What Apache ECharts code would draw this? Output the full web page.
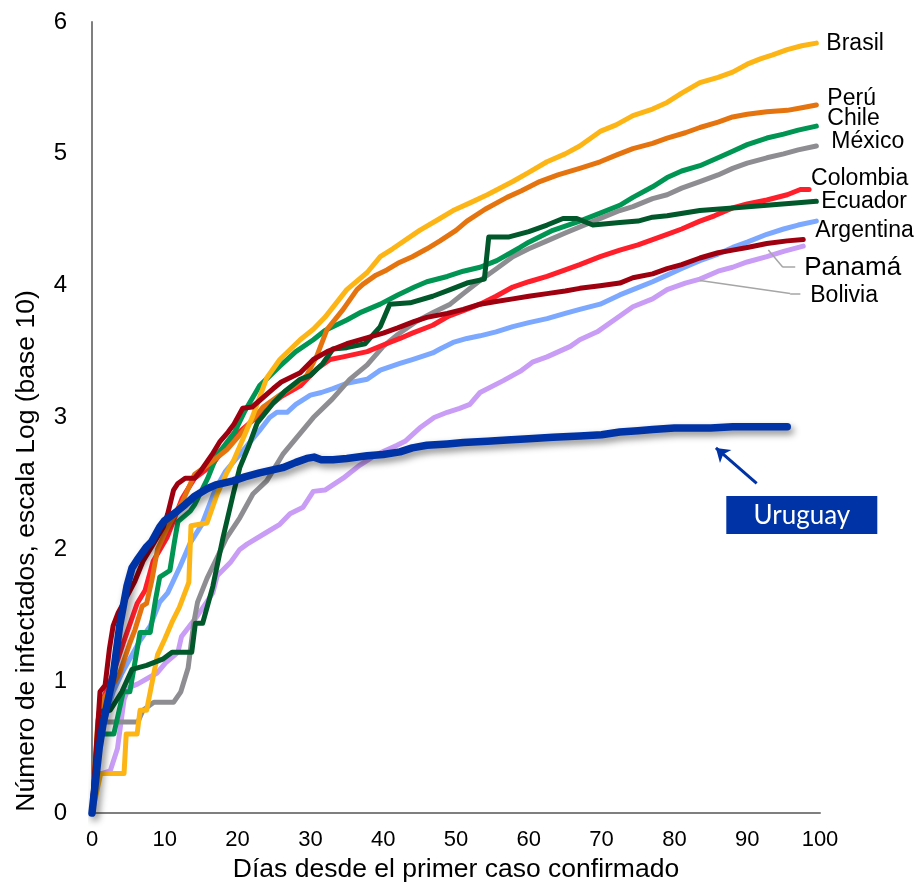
<!DOCTYPE html>
<html>
<head>
<meta charset="utf-8">
<script src="https://cdn.jsdelivr.net/npm/echarts@6/dist/echarts.min.js"></script>
<style>
  html, body { margin: 0; padding: 0; background: #ffffff; }
  #chart { width: 920px; height: 888px; }
</style>
</head>
<body>
<div id="chart"></div>
<script>
// log10 of confirmed cases, by days since the first confirmed case: [day, log10(cases)]
const brasil = [[0,0],[1.2,0.3],[4.4,0.3],[4.7,0.6],[6.2,0.6],[6.6,0.78],[7.5,0.78],[9,1.2],[10,1.32],[11,1.45],[12,1.56],[13.3,1.75],[13.6,2.18],[15.8,2.2],[17.2,2.42],[18.5,2.58],[19.5,2.68],[22,3.0],[24,3.3],[25.8,3.44],[28.6,3.59],[30.4,3.67],[32,3.76],[35,3.97],[37.8,4.1],[39.6,4.22],[41.3,4.28],[45,4.42],[47.5,4.5],[49.6,4.57],[52,4.63],[54.3,4.69],[57.8,4.79],[60,4.86],[62.5,4.94],[65,5.0],[67,5.06],[69.8,5.17],[72,5.22],[74.3,5.29],[77,5.34],[79,5.39],[81,5.46],[83.5,5.54],[86,5.58],[88,5.62],[90,5.68],[91.8,5.72],[93.5,5.75],[95.5,5.79],[97.5,5.82],[99.5,5.84]];
const peru = [[0,0],[0.8,0.7],[1.5,0.86],[2.5,0.94],[3.8,1.06],[5.2,1.29],[5.9,1.39],[6.9,1.57],[7.5,1.59],[8.2,1.76],[9,2.0],[10.4,2.17],[12.4,2.36],[14.1,2.57],[15.9,2.64],[18.6,2.76],[20,2.85],[21.7,2.96],[23.5,3.08],[25.8,3.17],[28,3.25],[29.5,3.32],[30.9,3.47],[32.3,3.67],[34.5,3.82],[36.4,3.97],[37.2,4.01],[39,4.08],[40.5,4.12],[42,4.17],[44,4.22],[46,4.28],[47.8,4.34],[50,4.42],[51.5,4.49],[54,4.58],[57,4.67],[59,4.72],[61.5,4.79],[64,4.84],[67,4.89],[69.8,4.94],[72,4.99],[74.3,5.04],[77,5.08],[79,5.12],[81.5,5.16],[83.5,5.2],[86,5.24],[88,5.28],[90,5.3],[92.7,5.32],[95.5,5.33],[97.5,5.35],[99.5,5.37]];
const chile = [[0,0],[1,0.6],[3,0.6],[4.3,0.92],[5.2,0.92],[6.6,1.37],[8,1.37],[8.7,1.61],[9.3,1.79],[10.7,1.84],[11.3,2.05],[11.8,2.21],[13.5,2.29],[14.1,2.34],[15.9,2.54],[17.2,2.72],[17.8,2.76],[19.6,2.89],[21,3.05],[23,3.24],[25.8,3.39],[28,3.5],[30.4,3.59],[32,3.66],[35,3.74],[37,3.8],[39.6,3.86],[42,3.93],[44.3,3.99],[46,4.03],[48.8,4.07],[51,4.11],[53.3,4.14],[55.6,4.19],[58.8,4.29],[60,4.33],[63.3,4.42],[67,4.49],[69.8,4.55],[72.5,4.61],[74.3,4.67],[77,4.75],[79,4.82],[81,4.87],[83.5,4.91],[86,4.97],[88,5.02],[90,5.07],[92.7,5.12],[95,5.15],[97,5.18],[99.5,5.21]];
const mexico = [[0,0],[1,0.69],[6.3,0.69],[7,0.78],[8.5,0.84],[11.2,0.84],[12.2,0.92],[13.2,1.1],[14,1.45],[14.5,1.6],[15.8,1.78],[17.2,1.94],[18.5,2.09],[20.3,2.24],[22.1,2.42],[24,2.52],[26.2,2.72],[28,2.84],[30.4,3.0],[33,3.14],[35.4,3.29],[37.8,3.4],[40,3.54],[42,3.63],[44.6,3.73],[47,3.8],[49.2,3.86],[51,3.94],[53.3,4.04],[55.6,4.13],[57.8,4.22],[60,4.28],[62.5,4.34],[65,4.4],[68.5,4.48],[72.5,4.57],[74.3,4.6],[77,4.66],[79,4.69],[81,4.74],[83.5,4.79],[86,4.84],[88,4.89],[90,4.93],[92.7,4.97],[95,5.0],[97,5.03],[99.5,5.06]];
const colombia = [[0,0],[1,0.75],[1.5,0.86],[2.9,1.06],[4.3,1.29],[6.2,1.59],[7.3,1.69],[8.4,1.91],[10.3,2.09],[11,2.19],[12.4,2.39],[14.1,2.54],[16.5,2.64],[18.7,2.81],[20,2.88],[21.7,2.96],[24,3.07],[26,3.16],[28.6,3.24],[30.9,3.37],[32.7,3.44],[34.5,3.46],[37.8,3.5],[40,3.55],[42.3,3.6],[44,3.64],[46.8,3.7],[49,3.77],[51,3.81],[53.3,3.86],[55.5,3.92],[57.8,3.99],[60,4.03],[62.5,4.07],[65,4.12],[67,4.16],[69.8,4.22],[72.5,4.27],[75,4.31],[77,4.35],[79,4.39],[81,4.43],[83.5,4.49],[85.5,4.53],[88,4.59],[90,4.62],[92.7,4.65],[95.5,4.69],[97.3,4.73],[98.5,4.73]];
const ecuador = [[0,0],[1,0.77],[2.5,0.78],[4.1,0.92],[5.5,1.09],[7.5,1.12],[9.8,1.17],[11,1.22],[13.7,1.22],[14.2,1.44],[15.2,1.44],[16.6,1.72],[18,2.09],[19.4,2.42],[20.3,2.62],[21.5,2.78],[22.7,2.96],[24.9,3.11],[26.5,3.2],[28.6,3.29],[30,3.32],[31.7,3.41],[33.1,3.52],[35,3.53],[37.5,3.56],[39.6,3.69],[40.9,3.86],[43.7,3.87],[46.8,3.92],[49.2,3.97],[51.5,4.02],[53.9,4.05],[54.5,4.37],[57.3,4.37],[60,4.41],[62.5,4.46],[64.7,4.51],[66.6,4.51],[68.8,4.46],[72.5,4.48],[75,4.49],[77,4.52],[79,4.53],[83.5,4.57],[88,4.59],[92.7,4.61],[97,4.63],[99.5,4.64]];
const argentina = [[0,0],[1,0.6],[2,0.75],[2.9,0.92],[4,1.05],[5.5,1.2],[6.5,1.3],[8,1.42],[9.3,1.6],[10.4,1.67],[12.1,1.87],[13.5,2.05],[15.1,2.19],[16.9,2.45],[18.3,2.59],[20,2.7],[21.5,2.8],[23,2.9],[24.4,3.0],[25.4,3.04],[26.8,3.04],[28,3.1],[30,3.17],[31.5,3.19],[33.1,3.22],[35,3.26],[37.8,3.29],[39.6,3.36],[42.3,3.41],[44,3.44],[46.8,3.49],[47.8,3.52],[49.6,3.57],[51.5,3.6],[53.3,3.62],[55.5,3.65],[57.8,3.69],[60,3.72],[62.5,3.75],[65,3.79],[67,3.82],[69.8,3.86],[72.5,3.93],[74.3,3.97],[77,4.03],[79,4.08],[81,4.13],[83.5,4.19],[86,4.24],[88,4.29],[90,4.33],[92.7,4.39],[95,4.43],[97,4.46],[99.5,4.49]];
const panama = [[0,0],[1.1,0.92],[1.8,0.97],[2.4,1.25],[2.9,1.42],[3.6,1.52],[4.3,1.59],[5.9,1.76],[7,1.91],[8.2,2.02],[9.8,2.17],[10.4,2.27],[11.2,2.45],[11.8,2.5],[12.8,2.54],[14.1,2.54],[15,2.6],[16.5,2.72],[17.6,2.82],[18.7,2.89],[19.5,2.95],[20.7,3.07],[22,3.08],[24.9,3.22],[26,3.27],[28.6,3.34],[30.4,3.44],[32.3,3.5],[35,3.56],[37.5,3.6],[40,3.64],[42,3.68],[44.3,3.73],[46,3.76],[48.8,3.79],[51,3.82],[53.3,3.86],[55.5,3.88],[57.8,3.9],[60,3.92],[62.5,3.94],[65,3.96],[67,3.98],[69.8,4.0],[72.5,4.02],[74.3,4.06],[77,4.09],[79,4.13],[81,4.16],[83.5,4.21],[86,4.25],[88,4.27],[90,4.29],[92.7,4.32],[95.5,4.34],[97.7,4.35]];
const bolivia = [[0,0],[0.8,0.29],[2.5,0.32],[3.5,0.49],[4.4,0.86],[5,0.95],[6.3,0.98],[8.2,1.04],[8.9,1.06],[10.1,1.14],[11.8,1.22],[12.3,1.34],[14.4,1.49],[16.6,1.67],[17.2,1.8],[19,1.9],[20.3,2.0],[21.3,2.04],[24,2.13],[25.8,2.19],[27.2,2.27],[29,2.32],[30.4,2.44],[32,2.45],[34.5,2.54],[36.8,2.64],[39.1,2.72],[41.9,2.79],[43,2.82],[45,2.92],[47,3.0],[48.8,3.04],[50.5,3.07],[51.9,3.1],[53.3,3.19],[56.5,3.28],[57.8,3.32],[58.8,3.35],[60.5,3.42],[62.5,3.46],[65.7,3.54],[67,3.59],[69.4,3.65],[72.5,3.77],[74.3,3.84],[77,3.9],[79,3.97],[81.5,4.02],[83.5,4.05],[86,4.11],[88,4.14],[90,4.18],[92.7,4.22],[95,4.26],[97.7,4.3]];
const uruguay = [[0,0],[1,0.5],[1.5,0.67],[2.9,1.04],[3.8,1.42],[4.8,1.72],[5.5,1.86],[6.2,1.92],[7.5,2.02],[8.2,2.06],[9.3,2.17],[10,2.22],[11.7,2.29],[12.8,2.34],[14,2.4],[15.8,2.46],[17,2.49],[19.4,2.52],[21,2.55],[23,2.58],[26.2,2.62],[28,2.66],[29.5,2.69],[30.5,2.7],[31.5,2.68],[33.1,2.68],[35,2.69],[37.8,2.71],[40,2.72],[42.3,2.74],[44,2.77],[46,2.79],[48.8,2.8],[51,2.81],[54.3,2.82],[57,2.83],[60,2.84],[63.3,2.85],[67,2.86],[70,2.87],[72.5,2.89],[75,2.9],[77,2.91],[80,2.92],[85,2.92],[88,2.93],[95.5,2.93]];

// Country names as shown next to each line end
const names = ['Bolivia','Argentina','México','Colombia','Chile','Perú','Brasil','Ecuador','Panamá','Uruguay'];

const FONT = '"Liberation Sans", Arial, sans-serif';

// Per-country styling and end-label placement
const styles = {
  'Brasil':    { data: brasil,    color: '#FDB515', off: [10, 1] },
  'Perú':      { data: peru,      color: '#E5740F', off: [11, -6] },
  'Chile':     { data: chile,     color: '#009552', off: [11, -8] },
  'México':    { data: mexico,    color: '#8E8E92', off: [15, -4] },
  'Colombia':  { data: colombia,  color: '#FF1F2B', off: [2, -11] },
  'Ecuador':   { data: ecuador,   color: '#00582B', off: [5, 0] },
  'Argentina': { data: argentina, color: '#7DA8FF', off: [-1, 10] },
  'Panamá':    { data: panama,    color: '#9E000F', off: [1, 28], size: 26 },
  'Bolivia':   { data: bolivia,   color: '#C99CF6', off: [7, 50] },
  'Uruguay':   { data: uruguay,   color: '#0033A5' }
};

const leaderStyle = { color: '#A6A6A6', width: 1.5, type: 'solid' };

const series = names.map(function (name) {
  const s = styles[name];
  const isUy = name === 'Uruguay';
  const item = {
    name: name,
    type: 'line',
    data: s.data,
    symbol: 'none',
    smooth: false,
    clip: false,
    lineStyle: isUy ? {
      color: s.color, width: 7.5, cap: 'round', join: 'round',
      shadowColor: 'rgba(0,0,0,0.45)', shadowBlur: 7, shadowOffsetX: 3, shadowOffsetY: 4
    } : { color: s.color, width: 5, cap: 'round', join: 'round' },
    itemStyle: { color: s.color },
    emphasis: { disabled: true },
    z: isUy ? 5 : 2
  };
  if (!isUy) {
    item.endLabel = {
      show: true,
      formatter: name,
      distance: 0,
      offset: s.off,
      align: 'left',
      verticalAlign: 'middle',
      color: '#000',
      fontFamily: FONT,
      fontSize: s.size || 23
    };
  }
  if (name === 'Panamá') {
    item.markLine = {
      silent: true, symbol: 'none', label: { show: false }, lineStyle: leaderStyle,
      data: [
        [{ coord: [92.9, 4.27] }, { coord: [94.9, 4.14] }],
        [{ coord: [94.9, 4.14] }, { coord: [96.6, 4.14] }]
      ]
    };
  }
  if (name === 'Bolivia') {
    item.markLine = {
      silent: true, symbol: 'none', label: { show: false }, lineStyle: leaderStyle,
      data: [
        [{ coord: [83.5, 4.04] }, { coord: [95.9, 3.94] }],
        [{ coord: [95.9, 3.94] }, { coord: [97.3, 3.94] }]
      ]
    };
  }
  if (isUy) {
    // Callout: arrow pointing at the Uruguay curve and a boxed name
    item.markLine = {
      silent: true,
      symbol: ['none', 'arrow'],
      symbolSize: 13,
      label: { show: false },
      lineStyle: { color: '#0033A5', width: 3, type: 'solid', shadowBlur: 0 },
      data: [[{ coord: [91.3, 2.5] }, { coord: [85.7, 2.77] }]]
    };
    item.markPoint = {
      silent: true,
      data: [{
        coord: [97.5, 2.26],
        symbol: 'rect',
        symbolSize: [151, 38],
        itemStyle: { color: '#0033A5', shadowBlur: 0 },
        label: {
          show: true, formatter: 'Uruguay', color: '#ffffff',
          fontFamily: 'Lato, "Open Sans", sans-serif', fontSize: 26, position: 'inside'
        }
      }]
    };
  }
  return item;
});

const chart = echarts.init(document.getElementById('chart'), null, { renderer: 'canvas' });
chart.setOption({
  backgroundColor: '#ffffff',
  animation: false,
  grid: { left: 92, right: 100, top: 22, bottom: 66, containLabel: false },
  xAxis: {
    type: 'value', min: 0, max: 100, interval: 10,
    name: 'Días desde el primer caso confirmado',
    nameLocation: 'middle', nameGap: 35,
    nameTextStyle: { fontFamily: FONT, fontSize: 26.5, color: '#000' },
    axisLine: { show: true, onZero: false, lineStyle: { color: '#7F7F7F', width: 2 } },
    axisTick: { show: false },
    splitLine: { show: false },
    axisLabel: { fontFamily: FONT, fontSize: 22, color: '#000', margin: 16 }
  },
  yAxis: {
    type: 'value', min: 0, max: 6, interval: 1,
    axisLine: { show: true, lineStyle: { color: '#7F7F7F', width: 2 } },
    axisTick: { show: false },
    splitLine: { show: false },
    axisLabel: { fontFamily: FONT, fontSize: 24, color: '#000', margin: 25 }
  },
  graphic: [{
    type: 'text',
    x: 27, y: 551,
    rotation: Math.PI / 2,
    style: {
      text: 'Número de infectados, escala Log (base 10)',
      fill: '#000', font: '26.5px ' + FONT,
      align: 'center', verticalAlign: 'middle'
    }
  }],
  series: series
});
</script>
</body>
</html>
